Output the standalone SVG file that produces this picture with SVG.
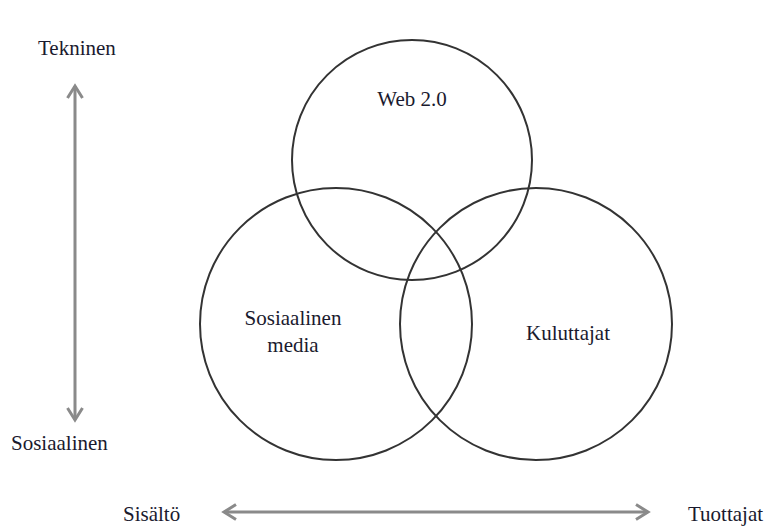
<svg xmlns="http://www.w3.org/2000/svg" width="778" height="528" viewBox="0 0 778 528">
  <style>
    text { font-family: "Liberation Serif", "Times New Roman", serif; font-size: 21px; fill: #1a1a2e; }
    .ring { fill: none; stroke: #333; stroke-width: 2; }
    .axis { fill: none; stroke: #8a8a8a; stroke-width: 3; }
  </style>
  <defs>
    <marker id="chev" viewBox="0 0 12 12" refX="10" refY="6" markerWidth="6" markerHeight="6" orient="auto-start-reverse" markerUnits="strokeWidth">
      <polyline points="2,1 10,6 2,11" fill="none" stroke="#8a8a8a" stroke-width="2"/>
    </marker>
  </defs>
  <rect width="778" height="528" fill="#fff"/>

  <g id="web20">
    <circle class="ring" cx="412" cy="160" r="120"/>
    <text x="412" y="106" text-anchor="middle">Web 2.0</text>
  </g>
  <g id="sosiaalinen-media">
    <circle class="ring" cx="336" cy="324" r="136"/>
    <text x="293" y="325" text-anchor="middle">Sosiaalinen</text>
    <text x="293" y="352" text-anchor="middle">media</text>
  </g>
  <g id="kuluttajat">
    <circle class="ring" cx="536" cy="324" r="136"/>
    <text x="568" y="340" text-anchor="middle">Kuluttajat</text>
  </g>

  <g id="axes">
    <line class="axis" x1="75" y1="86" x2="75" y2="420" marker-start="url(#chev)" marker-end="url(#chev)"/>
    <line class="axis" x1="224" y1="512" x2="648" y2="512" marker-start="url(#chev)" marker-end="url(#chev)"/>
  </g>

  <g id="axis-labels">
    <text x="38" y="55">Tekninen</text>
    <text x="11" y="450">Sosiaalinen</text>
    <text x="123" y="521">Sisältö</text>
    <text x="688" y="521">Tuottajat</text>
  </g>
</svg>
